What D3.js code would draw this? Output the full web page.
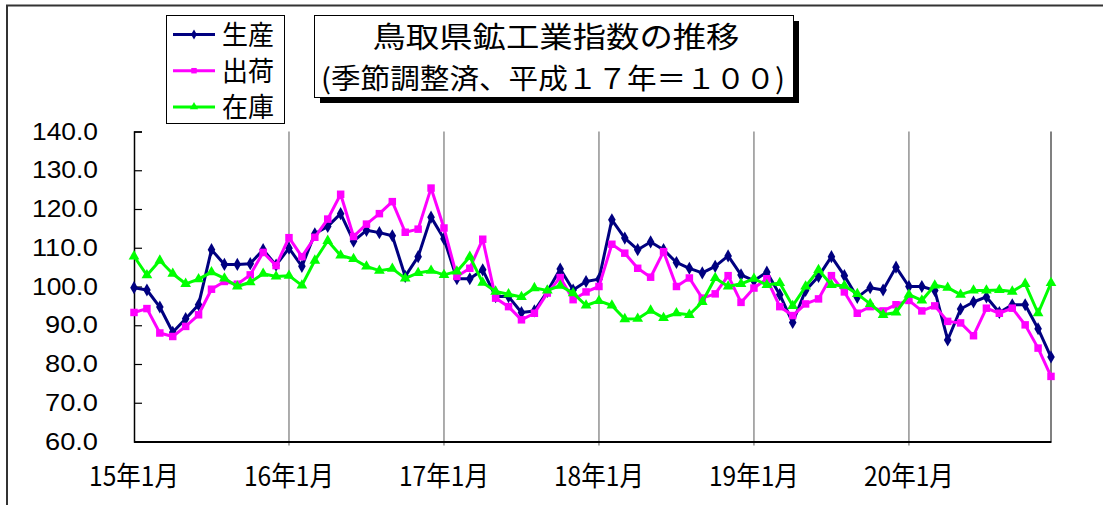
<!DOCTYPE html>
<html>
<head>
<meta charset="utf-8">
<script src="https://cdn.jsdelivr.net/npm/d3@7"></script>
<style>
  body { margin: 0; background: #fff; }
  text { font-family: "Noto Sans CJK JP", "Liberation Sans", sans-serif; fill: #000; }
</style>
</head>
<body>
<div id="chart"></div>
<script>
// months 15年1月 .. 20年12月
var months = [];
for (var yr = 15; yr <= 20; yr++) {
  for (var m = 1; m <= 12; m++) months.push(yr + "年" + m + "月");
}
var tickLabels = ["15年1月", "16年1月", "17年1月", "18年1月", "19年1月", "20年1月"];
var yTicks = [60, 70, 80, 90, 100, 110, 120, 130, 140];

// 生産
var production = [99.7, 99.1, 94.7, 88.2, 91.7, 95.3, 109.5, 105.7, 105.7, 105.9, 109.5, 105.5,
  109.9, 105.2, 113.6, 115.5, 118.8, 111.7, 114.5, 113.9, 113.1, 102.6, 107.7, 117.9,
  112.3, 102.0, 102.0, 104.3, 97.4, 97.4, 93.3, 93.7, 98.7, 104.5, 99.1, 101.3,
  101.9, 117.2, 112.5, 109.5, 111.5, 109.5, 106.2, 104.7, 103.5, 105.2, 107.9, 103.0,
  101.5, 103.7, 97.9, 90.7, 99.0, 102.6, 107.7, 102.8, 97.2, 99.7, 99.1, 105.0,
  100.0, 100.0, 99.0, 86.2, 94.2, 96.0, 97.3, 93.3, 95.3, 95.3, 89.1, 81.8];
// 出荷
var shipments = [93.3, 94.3, 88.0, 87.1, 89.7, 92.7, 99.3, 101.3, 100.6, 103.0, 108.8, 105.4,
  112.6, 107.7, 112.7, 117.4, 123.8, 112.9, 116.1, 118.8, 121.9, 114.0, 114.8, 125.4,
  115.1, 102.6, 104.7, 112.2, 97.0, 94.8, 91.4, 93.1, 98.3, 102.3, 96.6, 98.6,
  100.0, 110.9, 108.6, 104.7, 102.4, 109.0, 100.0, 102.2, 97.0, 98.1, 102.8, 95.9,
  99.6, 102.0, 94.8, 92.5, 95.5, 96.8, 102.8, 98.6, 93.1, 94.8, 93.7, 95.3,
  96.4, 93.7, 95.0, 91.0, 90.6, 87.3, 94.4, 93.1, 94.4, 90.1, 84.1, 76.8];
// 在庫
var inventory = [107.8, 102.9, 106.7, 103.3, 100.7, 101.9, 103.7, 102.1, 100.0, 101.1, 103.3, 102.6,
  102.8, 100.3, 106.7, 111.8, 108.0, 107.1, 105.2, 104.1, 104.6, 102.1, 103.5, 104.1,
  103.0, 103.9, 107.7, 101.0, 98.7, 98.0, 97.3, 99.6, 99.0, 100.2, 98.3, 95.1,
  96.3, 95.1, 91.6, 91.7, 93.8, 91.9, 93.1, 92.7, 96.0, 102.2, 100.0, 100.7,
  102.0, 100.4, 100.9, 95.0, 100.0, 104.3, 100.4, 100.2, 98.1, 95.5, 92.7, 93.3,
  97.9, 96.4, 100.3, 99.7, 97.9, 99.0, 99.0, 99.1, 98.7, 100.7, 93.1, 100.9];

var seriesNames = ["生産", "出荷", "在庫"];
var seriesColors = ["#000080", "#ff00ff", "#00ff00"];
var seriesSymbols = [d3.symbolDiamond, d3.symbolSquare, d3.symbolTriangle];
var seriesData = [production, shipments, inventory];

var W = 1103, H = 505;
var plot = {left: 134, right: 1051, top: 131.5, bottom: 441.5};

var svg = d3.select("#chart").append("svg")
  .attr("width", W).attr("height", H);

svg.append("rect").attr("width", W).attr("height", H).attr("fill", "#fff");

// outer frame (top and left edges visible)
svg.append("path")
  .attr("d", "M7," + H + " L7,5.5 L" + W + ",5.5")
  .attr("fill", "none").attr("stroke", "#333").attr("stroke-width", 2);

var x = d3.scalePoint().domain(months).range([plot.left, plot.right]).padding(0);
var y = d3.scaleLinear().domain([60, 140]).range([plot.bottom, plot.top]);

// vertical gridlines at each January
svg.append("g").selectAll("line")
  .data(tickLabels.slice(1))
  .enter().append("line")
    .attr("x1", function(d) { return x(d); })
    .attr("x2", function(d) { return x(d); })
    .attr("y1", plot.top).attr("y2", plot.bottom + 4)
    .attr("stroke", "#808080").attr("stroke-width", 1.3);

// right edge of plot area
svg.append("line")
  .attr("x1", plot.right).attr("x2", plot.right)
  .attr("y1", plot.top).attr("y2", plot.bottom)
  .attr("stroke", "#808080").attr("stroke-width", 2);

// y axis, ticks pointing inward
var yAxis = svg.append("g")
  .attr("transform", "translate(" + plot.left + ",0)")
  .call(d3.axisRight(y).tickValues(yTicks).tickSize(8).tickFormat(""));
yAxis.select(".domain").attr("stroke", "#000").attr("stroke-width", 1.5);
yAxis.selectAll(".tick line").attr("stroke", "#000").attr("stroke-width", 1.2);

svg.append("g").selectAll("text")
  .data(yTicks)
  .enter().append("text")
    .attr("x", 98)
    .attr("y", function(d) { return y(d) + 8; })
    .attr("text-anchor", "end")
    .attr("textLength", function(d) { return d >= 100 ? 66 : 53; })
    .attr("lengthAdjust", "spacingAndGlyphs")
    .style("font-family", "Liberation Sans")
    .style("font-size", "23px")
    .text(function(d) { return d3.format(".1f")(d); });

// x axis
var xAxis = svg.append("g")
  .attr("transform", "translate(0," + plot.bottom + ")")
  .call(d3.axisBottom(x).tickValues(tickLabels).tickSize(0).tickFormat(""));
xAxis.select(".domain").attr("stroke", "#000").attr("stroke-width", 2);

svg.append("g").selectAll("text")
  .data(tickLabels)
  .enter().append("text")
    .attr("x", function(d) { return x(d); })
    .attr("y", 486)
    .attr("text-anchor", "middle")
    .attr("textLength", 90)
    .attr("lengthAdjust", "spacingAndGlyphs")
    .style("font-size", "27px")
    .text(function(d) { return d; });

// series
var line = d3.line()
  .x(function(d, i) { return x(months[i]); })
  .y(function(d) { return y(d); });

seriesData.forEach(function(vals, s) {
  svg.append("path")
    .datum(vals)
    .attr("d", line)
    .attr("fill", "none")
    .attr("stroke", seriesColors[s])
    .attr("stroke-width", 3)
    .attr("stroke-linejoin", "round");

  svg.append("g").selectAll("path")
    .data(vals)
    .enter().append("path")
      .attr("transform", function(d, i) { return "translate(" + x(months[i]) + "," + y(d) + ")"; })
      .attr("d", d3.symbol().type(seriesSymbols[s]).size(s === 1 ? 56 : 50))
      .attr("fill", seriesColors[s]);
});

// legend
var legend = svg.append("g");
legend.append("rect")
  .attr("x", 166.5).attr("y", 15.5).attr("width", 118).attr("height", 108)
  .attr("fill", "#fff").attr("stroke", "#000").attr("stroke-width", 1);

seriesNames.forEach(function(name, i) {
  var ly = 34.5 + i * 36.2;
  legend.append("line")
    .attr("x1", 173).attr("x2", 215).attr("y1", ly).attr("y2", ly)
    .attr("stroke", seriesColors[i]).attr("stroke-width", 3);
  legend.append("path")
    .attr("transform", "translate(194," + ly + ")")
    .attr("d", d3.symbol().type(seriesSymbols[i]).size(30))
    .attr("fill", seriesColors[i]);
  legend.append("text")
    .attr("x", 222).attr("y", ly + 10)
    .attr("textLength", 52)
    .attr("lengthAdjust", "spacingAndGlyphs")
    .style("font-size", "27px")
    .text(name);
});

// title box with shadow
var tb = {x: 314, y: 15, w: 479, h: 82};
svg.append("rect")
  .attr("x", tb.x + 6).attr("y", tb.y + 6).attr("width", tb.w).attr("height", tb.h)
  .attr("fill", "#000");
svg.append("rect")
  .attr("x", tb.x + 0.5).attr("y", tb.y + 0.5).attr("width", tb.w).attr("height", tb.h)
  .attr("fill", "#fff").attr("stroke", "#000").attr("stroke-width", 1);

svg.append("text")
  .attr("x", 556).attr("y", 48)
  .attr("text-anchor", "middle")
  .attr("textLength", 367)
  .attr("lengthAdjust", "spacingAndGlyphs")
  .style("font-size", "29px")
  .text("鳥取県鉱工業指数の推移");

svg.append("text")
  .attr("x", 553).attr("y", 89)
  .attr("text-anchor", "middle")
  .attr("textLength", 464)
  .attr("lengthAdjust", "spacingAndGlyphs")
  .style("font-size", "28px")
  .text("(季節調整済、平成１７年＝１００)");
</script>
</body>
</html>
